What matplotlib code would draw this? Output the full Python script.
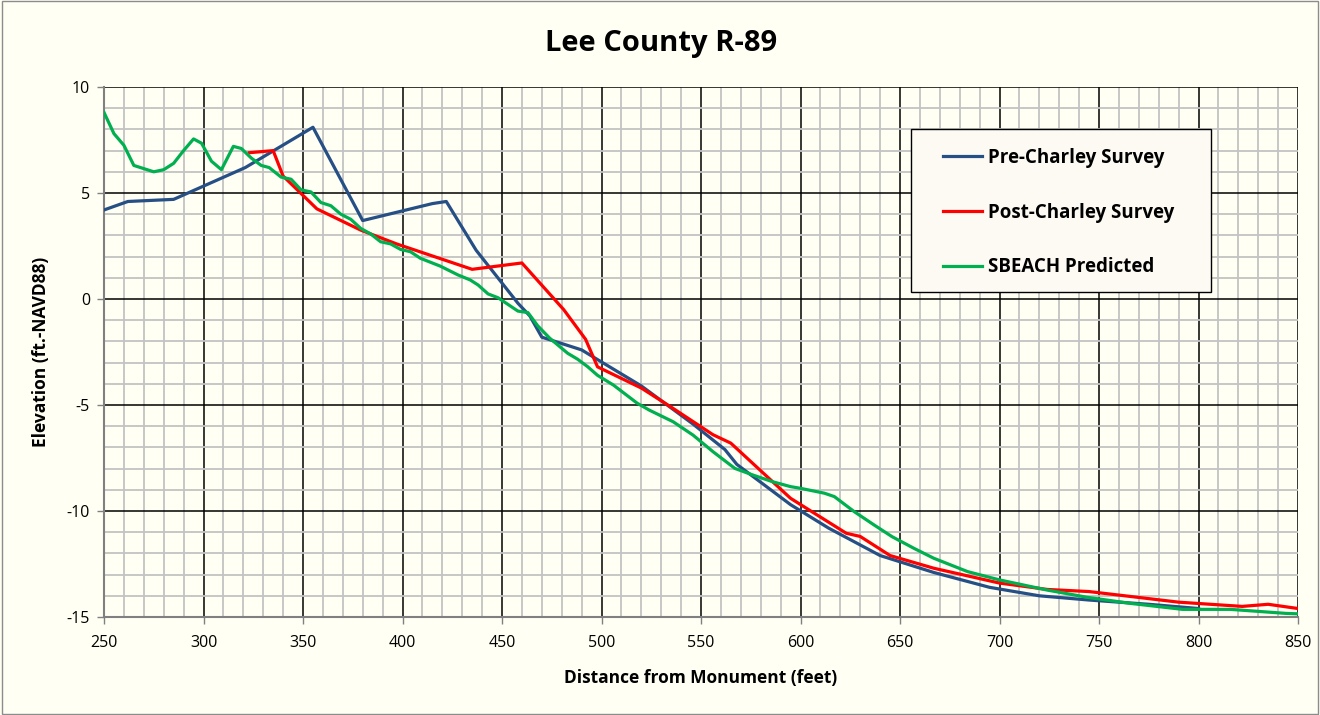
import matplotlib
matplotlib.use("Agg")
import matplotlib.pyplot as plt
from matplotlib.ticker import MultipleLocator
from matplotlib.patches import Rectangle

plt.rcParams['font.family'] = ['Open Sans', 'DejaVu Sans']
plt.rcParams['axes.unicode_minus'] = False

# Pre-Charley Survey
pre_x = [250, 262, 285, 321, 355, 380, 415, 422, 437, 458, 464, 470, 490, 497, 520,
         546, 562, 568, 595, 614, 640, 667, 695, 720, 745, 775, 800]
pre_y = [4.2, 4.6, 4.7, 6.2, 8.1, 3.7, 4.5, 4.6, 2.3, -0.2, -0.8, -1.8, -2.4, -2.8, -4.1,
         -5.9, -7.1, -7.8, -9.7, -10.8, -12.1, -12.9, -13.6, -14.0, -14.2, -14.4, -14.6]

# Post-Charley Survey
post_x = [323, 335, 340, 357, 379, 397, 435, 460, 481, 492, 498, 520, 535, 556, 565,
          595, 623, 630, 645, 667, 700, 724, 745, 790, 822, 835, 850]
post_y = [6.9, 7.0, 5.8, 4.25, 3.25, 2.6, 1.4, 1.7, -0.5, -1.9, -3.2, -4.2, -5.1, -6.4, -6.8,
          -9.4, -11.05, -11.2, -12.1, -12.7, -13.4, -13.7, -13.8, -14.3, -14.5, -14.4, -14.6]

# SBEACH Predicted
sb_x = [250, 255, 260, 265, 275, 280, 285, 290, 295, 299, 304, 309, 315, 319, 324, 329,
        333, 339, 344, 349, 354, 359, 364, 369, 374, 379, 384, 389, 394, 399, 404, 409,
        419, 428, 434, 438, 443, 448, 458, 463, 468, 474, 483, 488, 493, 498, 506, 518,
        524, 536, 546, 556, 567, 576, 586, 595, 600, 612, 617, 627, 637, 646, 657, 667,
        684, 700, 724, 744, 766, 792, 816, 844, 850]
sb_y = [8.8, 7.8, 7.25, 6.3, 6.0, 6.1, 6.4, 7.0, 7.55, 7.35, 6.5, 6.1, 7.2, 7.1, 6.65, 6.3,
        6.2, 5.75, 5.65, 5.15, 5.05, 4.55, 4.4, 4.0, 3.76, 3.33, 3.07, 2.7, 2.6, 2.34, 2.23, 1.92,
        1.55, 1.13, 0.9, 0.66, 0.24, 0.06, -0.57, -0.64, -1.27, -1.85, -2.56, -2.84, -3.19, -3.6, -4.06, -4.92,
        -5.24, -5.79, -6.42, -7.2, -7.99, -8.3, -8.62, -8.85, -8.93, -9.16, -9.32, -10.03, -10.66, -11.21, -11.76, -12.23,
        -12.86, -13.25, -13.73, -14.07, -14.36, -14.64, -14.64, -14.83, -14.85]

BG = '#FFFFF3'
fig = plt.figure(figsize=(13.2, 7.15), dpi=100)
fig.patch.set_facecolor(BG)
ax = fig.add_axes([104/1320, 1-617/715, 1194/1320, 530/715])
ax.set_facecolor(BG)

ax.set_xlim(250, 850)
ax.set_ylim(-15, 10)
ax.xaxis.set_major_locator(MultipleLocator(50))
ax.xaxis.set_minor_locator(MultipleLocator(10))
ax.yaxis.set_major_locator(MultipleLocator(5))
ax.yaxis.set_minor_locator(MultipleLocator(1))
ax.grid(which='minor', color='#C3C3C3', linewidth=1.3, zorder=0)
ax.grid(which='major', color='black', linewidth=1.1, zorder=0.5)
ax.set_axisbelow(True)

for side in ['top', 'right']:
    ax.spines[side].set_visible(False)
for side in ['left', 'bottom']:
    ax.spines[side].set_color('#808080')
    ax.spines[side].set_linewidth(1.5)
ax.tick_params(which='major', direction='out', length=5, color='#808080', width=1,
               labelsize=11.5)
ax.tick_params(axis='x', pad=8)
ax.tick_params(axis='y', pad=5)
ax.tick_params(which='minor', length=0)

ax.plot(pre_x, pre_y, color='#254F85', linewidth=2.3, label='Pre-Charley Survey', zorder=3)
ax.plot(post_x, post_y, color='#FF0000', linewidth=2.3, label='Post-Charley Survey', zorder=3)
ax.plot(sb_x, sb_y, color='#00B050', linewidth=2.3, label='SBEACH Predicted', zorder=4)

ax.set_xlabel('Distance from Monument (feet)', fontsize=12.5, fontweight='bold', labelpad=13)
ax.set_ylabel('Elevation (ft.-NAVD88)', fontsize=12.5, fontweight='bold', labelpad=12)
fig.text(661/1320, 1-43/715, 'Lee County R-89', ha='center', va='center',
         fontsize=21, fontweight='bold')

# legend frame (drawn separately to match the wide box of the original)
ax.add_patch(Rectangle(((911-104)/1194, 1-(292-87)/530), 300/1194, 163/530,
                       transform=ax.transAxes, facecolor='#FDFAF3', edgecolor='black',
                       linewidth=1.0, zorder=9))
leg = ax.legend(loc='upper left', bbox_to_anchor=((943-104)/1194, 1-(148-87)/530),
                prop={'weight': 'bold', 'size': 13.5}, frameon=False,
                labelspacing=1.85, borderpad=0, handlelength=2.1, handletextpad=0.3,
                borderaxespad=0)
leg.set_zorder(10)

fig.patches.append(Rectangle((0.0015, 0.002), 0.997, 0.996, transform=fig.transFigure,
                             fill=False, edgecolor='#8C8C8C', linewidth=1.0))

fig.savefig('out.png', dpi=100, facecolor=BG)
